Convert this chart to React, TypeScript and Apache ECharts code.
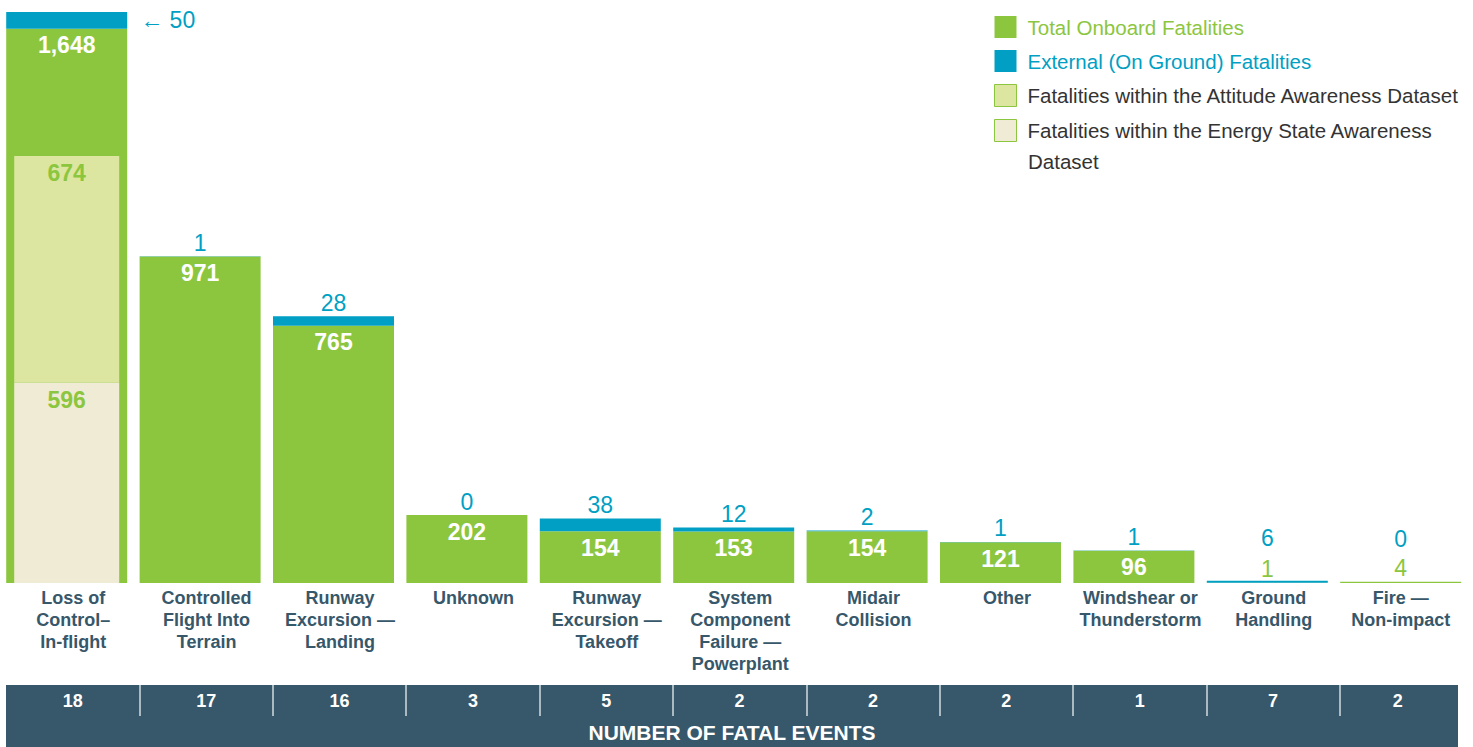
import React, { useEffect, useRef } from 'react';
import * as echarts from 'echarts';

const categories = [
  'Loss of\nControl–\nIn-flight',
  'Controlled\nFlight Into\nTerrain',
  'Runway\nExcursion —\nLanding',
  'Unknown',
  'Runway\nExcursion —\nTakeoff',
  'System\nComponent\nFailure —\nPowerplant',
  'Midair\nCollision',
  'Other',
  'Windshear or\nThunderstorm',
  'Ground\nHandling',
  'Fire —\nNon-impact',
];
const onboardFatalities = [1648, 971, 765, 202, 154, 153, 154, 121, 96, 1, 4];
const externalFatalities = [50, 1, 28, 0, 38, 12, 2, 1, 1, 6, 0];
const attitudeAwareness = [674, null, null, null, null, null, null, null, null, null, null];
const energyStateAwareness = [596, null, null, null, null, null, null, null, null, null, null];
const fatalEvents = [18, 17, 16, 3, 5, 2, 2, 2, 1, 7, 2];

const N_ONBOARD = 'Total Onboard Fatalities';
const N_EXTERNAL = 'External (On Ground) Fatalities';
const N_ATTITUDE = 'Fatalities within the Attitude Awareness Dataset';
const N_ENERGY = 'Fatalities within the Energy State Awareness Dataset';

const GREEN = '#8cc63f';
const BLUE = '#009fc3';
const LIGHT_GREEN = '#dce6a0';
const BEIGE = '#f0ebd5';
const SLATE = '#37576a';
const FONT = '"Liberation Sans", Arial, Helvetica, sans-serif';

export default function App() {
  const ref = useRef<HTMLDivElement>(null);
  useEffect(() => {
    if (!ref.current) return;
    const chart = echarts.init(ref.current, null, { renderer: 'svg' });
    const n = categories.length;
    const SMALL = 50;

    const option: any = {
      animation: false,
      textStyle: { fontFamily: FONT },
      legend: {
        orient: 'vertical',
        left: 994,
        top: 16,
        padding: 0,
        itemWidth: 22,
        itemHeight: 22,
        itemGap: 12,
        icon: 'rect',
        selectedMode: false,
        textStyle: { fontSize: 20.5, fontFamily: FONT, padding: [0, 0, 0, 6] },
        formatter: (name: string) =>
          name === N_ENERGY ? 'Fatalities within the Energy State Awareness' : name,
        data: [
          { name: N_ONBOARD, textStyle: { color: GREEN } },
          { name: N_EXTERNAL, textStyle: { color: BLUE } },
          { name: N_ATTITUDE, textStyle: { color: '#333' }, itemStyle: { borderColor: GREEN, borderWidth: 1 } },
          { name: N_ENERGY, textStyle: { color: '#333' }, itemStyle: { borderColor: GREEN, borderWidth: 1 } },
        ],
      },
      graphic: [
        {
          type: 'rect',
          z: -10,
          shape: { x: 6, y: 685, width: 1452, height: 62 },
          style: { fill: SLATE },
        },
        {
          type: 'text',
          x: 732,
          y: 732,
          style: {
            text: 'NUMBER OF FATAL EVENTS',
            fill: '#ffffff',
            font: `bold 21px ${FONT}`,
            textAlign: 'center',
            textVerticalAlign: 'middle',
          },
        },
        {
          type: 'text',
          x: 1028,
          y: 161,
          style: {
            text: 'Dataset',
            fill: '#333',
            font: `20.5px ${FONT}`,
            textAlign: 'left',
            textVerticalAlign: 'middle',
          },
        },
      ],
      grid: [
        { left: 0, right: 5.6, top: 12, bottom: 164 },
        { left: 6.2, right: -3, top: 685, height: 31 },
      ],
      xAxis: [
        {
          type: 'category',
          gridIndex: 0,
          data: categories,
          axisLine: { show: false },
          axisTick: { show: false },
          axisLabel: {
            interval: 0,
            margin: 4,
            formatter: (v: string, i: number) =>
              v
                .split('\n')
                .map((l) => `{${i === n - 1 ? 'e' : 'c'}|${l}}`)
                .join('\n'),
            rich: {
              c: { fontSize: 18, fontWeight: 'bold', color: SLATE, lineHeight: 22, padding: [0, 0, 0, 13], fontFamily: FONT },
              e: { fontSize: 18, fontWeight: 'bold', color: SLATE, lineHeight: 22, fontFamily: FONT },
            },
          },
        },
        {
          type: 'category',
          gridIndex: 0,
          data: categories,
          show: false,
        },
        {
          type: 'category',
          gridIndex: 1,
          position: 'top',
          data: fatalEvents.map(String),
          axisLine: { show: false, onZero: false },
          axisTick: {
            show: true,
            inside: true,
            length: 31,
            interval: (i: number) => i > 0,
            lineStyle: { color: 'rgba(255,255,255,0.78)', width: 1.5 },
          },
          axisLabel: {
            inside: true,
            interval: 0,
            margin: 7,
            color: '#ffffff',
            fontWeight: 'bold',
            fontSize: 18,
            fontFamily: FONT,
            formatter: (v: string, i: number) => (i === n - 1 ? `{last|${v}}` : v),
            rich: {
              last: { padding: [0, 17, 0, 0], color: '#ffffff', fontWeight: 'bold', fontSize: 18, fontFamily: FONT },
            },
          },
        },
      ],
      yAxis: [
        { type: 'value', gridIndex: 0, min: 0, max: 'dataMax', show: false },
        { type: 'value', gridIndex: 1, show: false },
      ],
      series: [
        {
          name: N_ONBOARD,
          type: 'bar',
          stack: 'total',
          xAxisIndex: 0,
          yAxisIndex: 0,
          barWidth: 121,
          itemStyle: { color: GREEN },
          label: {
            show: true,
            position: 'insideTop',
            distance: 5,
            color: '#ffffff',
            fontSize: 23,
            fontWeight: 'bold',
            fontFamily: FONT,
            formatter: (p: any) => Number(p.value).toLocaleString('en-US'),
          },
          data: onboardFatalities.map((v) =>
            v < SMALL
              ? { value: v, label: { position: 'top', distance: 2, color: GREEN, fontWeight: 'normal' } }
              : v
          ),
        },
        {
          name: N_EXTERNAL,
          type: 'bar',
          stack: 'total',
          xAxisIndex: 0,
          yAxisIndex: 0,
          barWidth: 121,
          itemStyle: { color: BLUE },
          label: {
            show: true,
            position: 'top',
            distance: 2,
            color: BLUE,
            fontSize: 23,
            fontFamily: FONT,
          },
          data: externalFatalities.map((v, i) => {
            if (i === 0) {
              return { value: v, label: { position: 'right', distance: 13, formatter: '← {c}' } };
            }
            if (onboardFatalities[i] < SMALL) {
              return { value: v, label: { distance: 31 } };
            }
            return v;
          }),
        },
        {
          name: N_ENERGY,
          type: 'bar',
          stack: 'aware',
          xAxisIndex: 1,
          yAxisIndex: 0,
          barWidth: 105,
          z: 3,
          itemStyle: { color: BEIGE },
          label: {
            show: true,
            position: 'insideTop',
            distance: 6,
            color: GREEN,
            fontSize: 23,
            fontWeight: 'bold',
            fontFamily: FONT,
          },
          data: energyStateAwareness,
        },
        {
          name: N_ATTITUDE,
          type: 'bar',
          stack: 'aware',
          xAxisIndex: 1,
          yAxisIndex: 0,
          barWidth: 105,
          z: 3,
          itemStyle: { color: LIGHT_GREEN },
          label: {
            show: true,
            position: 'insideTop',
            distance: 6,
            color: GREEN,
            fontSize: 23,
            fontWeight: 'bold',
            fontFamily: FONT,
          },
          data: attitudeAwareness,
        },
      ],
    };
    chart.setOption(option);
    return () => chart.dispose();
  }, []);
  return (
    <div
      ref={ref}
      style={{ position: 'absolute', left: 0, top: 0, width: 1473, height: 747, background: '#fff' }}
    />
  );
}
